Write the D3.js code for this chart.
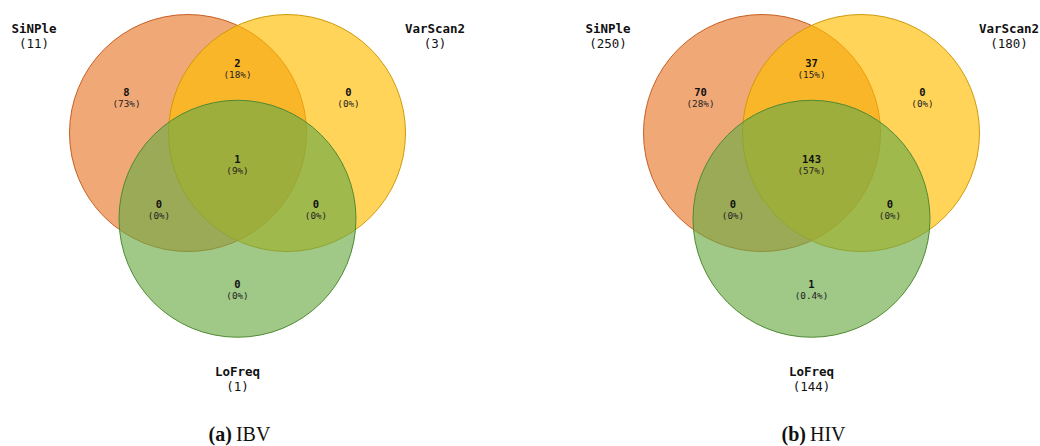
<!DOCTYPE html>
<html>
<head>
<meta charset="utf-8">
<script src="https://cdn.jsdelivr.net/npm/d3@7/dist/d3.min.js"></script>
<style>
  html, body { margin: 0; padding: 0; background: #fff; }
  svg { display: block; }
</style>
</head>
<body>
<svg id="chart" width="1040" height="446"></svg>
<script>
// Set names, in drawing order
const setNames = ["SiNPle", "VarScan2", "LoFreq"];

// Region keys: which sets each region belongs to
const regionKeys = ["S", "SV", "V", "SVL", "SL", "VL", "L"];

// Region counts per panel
const ibvCounts = [8, 2, 0, 1, 0, 0, 0];
const hivCounts = [70, 37, 0, 143, 0, 0, 1];

// Panel captions
const panelTags = ["(a)", "(b)"];
const panelNames = ["IBV", "HIV"];

const fillColors = ["rgb(232,121,44)", "rgb(255,189,0)", "rgb(109,170,70)"];
const strokeColors = ["#c85f22", "#cf9a0c", "#4f8a32"];
const fillAlpha = 0.65;

const svg = d3.select("#chart");

// Layout of one three-circle panel, relative to its centroid
const R = 118.5, D = 99;
const h = D * Math.sqrt(3) / 2;
const circlePos = [
  [-D / 2, -h / 3],
  [ D / 2, -h / 3],
  [0, 2 * h / 3]
];
const regionPos = {
  S:   [-111, -69.6],
  SV:  [0, -98.6],
  V:   [111, -69.6],
  SVL: [0, -2.6],
  SL:  [-78.5, 42.4],
  VL:  [78.5, 42.4],
  L:   [0, 122.4]
};
const namePos = [[-203.5, -133.6], [197.5, -133.6], [0, 209.6]];

const mono = "'DejaVu Sans Mono', monospace";

function pctLabel(c, total) {
  const p = c / total * 100;
  if (p === 0) return "0%";
  if (p < 1) return d3.format(".1f")(p) + "%";
  return d3.format(".0f")(p) + "%";
}

function drawPanel(counts, cx, cy, tag, name) {
  const g = svg.append("g").attr("transform", `translate(${cx},${cy})`);
  const total = d3.sum(counts);
  const setTotals = setNames.map((n, i) => {
    const letter = "SVL"[i];
    return d3.sum(regionKeys.map((k, j) => k.includes(letter) ? counts[j] : 0));
  });

  g.selectAll("circle.set")
    .data(setNames)
    .join("circle")
    .attr("class", "set")
    .attr("cx", (d, i) => circlePos[i][0])
    .attr("cy", (d, i) => circlePos[i][1])
    .attr("r", R)
    .attr("fill", (d, i) => fillColors[i])
    .attr("fill-opacity", fillAlpha)
    .attr("stroke", (d, i) => strokeColors[i])
    .attr("stroke-width", 1);

  const reg = g.selectAll("g.region")
    .data(regionKeys.map((k, i) => ({ k, c: counts[i] })))
    .join("g")
    .attr("class", "region")
    .attr("transform", d => `translate(${regionPos[d.k][0]},${regionPos[d.k][1]})`);
  reg.append("text")
    .attr("text-anchor", "middle")
    .attr("dy", "0.36em")
    .attr("font-family", mono)
    .attr("font-weight", "bold")
    .attr("font-size", 10.5)
    .attr("fill", "#111")
    .text(d => d.c);
  reg.append("text")
    .attr("text-anchor", "middle")
    .attr("y", 12)
    .attr("dy", "0.36em")
    .attr("font-family", mono)
    .attr("font-size", 9.3)
    .attr("fill", "#222")
    .text(d => "(" + pctLabel(d.c, total) + ")");

  const lab = g.selectAll("g.setlabel")
    .data(setNames)
    .join("g")
    .attr("class", "setlabel")
    .attr("transform", (d, i) => `translate(${namePos[i][0]},${namePos[i][1]})`);
  lab.append("text")
    .attr("text-anchor", "middle")
    .attr("dy", "0.36em")
    .attr("font-family", mono)
    .attr("font-weight", "bold")
    .attr("font-size", 12.5)
    .attr("fill", "#111")
    .text(d => d);
  lab.append("text")
    .attr("text-anchor", "middle")
    .attr("y", 15)
    .attr("dy", "0.36em")
    .attr("font-family", mono)
    .attr("font-size", 12.5)
    .attr("fill", "#111")
    .text((d, i) => "(" + setTotals[i] + ")");

  const cap = svg.append("text")
    .attr("x", cx + 2)
    .attr("y", 441)
    .attr("text-anchor", "middle")
    .attr("font-family", "'Liberation Serif', 'DejaVu Serif', serif")
    .attr("font-size", 20)
    .attr("fill", "#111");
  cap.append("tspan").attr("font-weight", "bold").text(tag);
  cap.append("tspan").attr("dx", 4).text(name);
}

drawPanel(ibvCounts, 237.5, 161.6, panelTags[0], panelNames[0]);
drawPanel(hivCounts, 811.5, 161.6, panelTags[1], panelNames[1]);
</script>
</body>
</html>
